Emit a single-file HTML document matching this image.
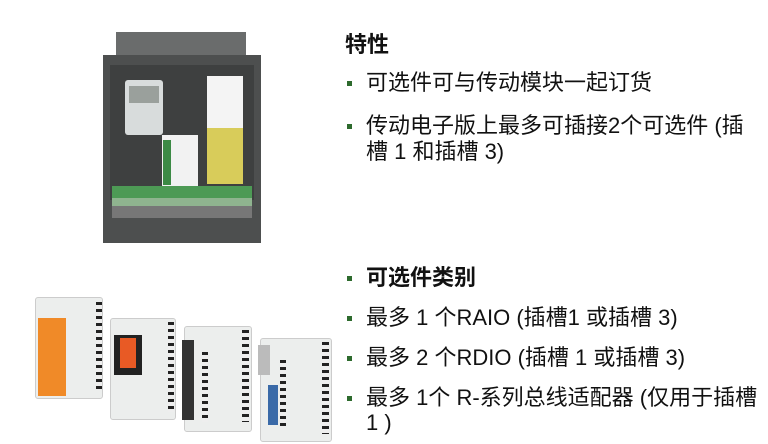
<!DOCTYPE html><html><head><meta charset="utf-8"><style>
body{margin:0;width:768px;height:444px;background:#fff;position:relative;overflow:hidden;font-family:"Liberation Sans","Noto Sans CJK SC",sans-serif;color:#111}
.a{position:absolute}
.t{position:absolute;font-size:22px;white-space:nowrap;line-height:26px}
.b{position:absolute;width:5px;height:5px;background:#2d6a2d}
.m{position:absolute;background:#eceeed;border:1px solid #ccc;border-radius:3px}
.g{position:absolute;background:repeating-linear-gradient(#222 0 3px,#eee 3px 7px)}
</style></head><body>
<!-- drive -->
<div class="a" style="left:116px;top:32px;width:130px;height:30px;background:#6a6c6c"></div>
<div class="a" style="left:103px;top:55px;width:158px;height:188px;background:#4d4f4f"></div>
<div class="a" style="left:110px;top:65px;width:144px;height:135px;background:#3e4040"></div>
<div class="a" style="left:125px;top:80px;width:38px;height:55px;background:#d8dcdc;border-radius:3px"></div>
<div class="a" style="left:129px;top:86px;width:30px;height:17px;background:#9aa09c"></div>
<div class="a" style="left:207px;top:76px;width:36px;height:55px;background:#f4f4f4"></div>
<div class="a" style="left:207px;top:128px;width:36px;height:56px;background:#d8cc5a"></div>
<div class="a" style="left:162px;top:135px;width:36px;height:52px;background:#f2f2f2"></div>
<div class="a" style="left:163px;top:140px;width:8px;height:45px;background:#3c8a45"></div>
<div class="a" style="left:112px;top:186px;width:140px;height:12px;background:#4d9a55"></div>
<div class="a" style="left:112px;top:198px;width:140px;height:8px;background:#8fb48f"></div>
<div class="a" style="left:112px;top:206px;width:140px;height:12px;background:#777"></div>
<!-- modules -->
<div class="m" style="left:35px;top:297px;width:66px;height:100px"></div>
<div class="a" style="left:38px;top:318px;width:28px;height:78px;background:#f08a28"></div>
<div class="g" style="left:96px;top:302px;width:6px;height:88px"></div>
<div class="m" style="left:110px;top:318px;width:64px;height:100px"></div>
<div class="a" style="left:114px;top:335px;width:28px;height:40px;background:#222"></div>
<div class="a" style="left:120px;top:338px;width:16px;height:30px;background:#e85a25"></div>
<div class="g" style="left:168px;top:322px;width:6px;height:90px"></div>
<div class="m" style="left:184px;top:326px;width:66px;height:104px"></div>
<div class="a" style="left:182px;top:340px;width:12px;height:80px;background:#333"></div>
<div class="g" style="left:202px;top:352px;width:6px;height:70px"></div>
<div class="g" style="left:242px;top:330px;width:7px;height:92px"></div>
<div class="m" style="left:260px;top:338px;width:70px;height:102px"></div>
<div class="a" style="left:258px;top:345px;width:12px;height:30px;background:#bbb"></div>
<div class="a" style="left:268px;top:385px;width:10px;height:40px;background:#3a6aa8"></div>
<div class="g" style="left:280px;top:360px;width:6px;height:70px"></div>
<div class="g" style="left:322px;top:342px;width:7px;height:92px"></div>
<!-- text -->
<div class="t" style="left:345px;top:32px;font-weight:bold">特性</div>
<div class="b" style="left:347px;top:81px"></div><div class="t" style="left:366px;top:70px">可选件可与传动模块一起订货</div>
<div class="b" style="left:347px;top:124px"></div><div class="t" style="left:366px;top:113px">传动电子版上最多可插接2个可选件 (插</div>
<div class="t" style="left:366px;top:139px">槽 1 和插槽 3)</div>
<div class="b" style="left:347px;top:276px"></div><div class="t" style="left:366px;top:265px;font-weight:bold">可选件类别</div>
<div class="b" style="left:347px;top:316px"></div><div class="t" style="left:366px;top:305px">最多 1 个RAIO (插槽1 或插槽 3)</div>
<div class="b" style="left:347px;top:356px"></div><div class="t" style="left:366px;top:345px">最多 2 个RDIO (插槽 1 或插槽 3)</div>
<div class="b" style="left:347px;top:396px"></div><div class="t" style="left:366px;top:385px">最多 1个 R-系列总线适配器 (仅用于插槽</div>
<div class="t" style="left:366px;top:410px">1 )</div>
</body></html>
